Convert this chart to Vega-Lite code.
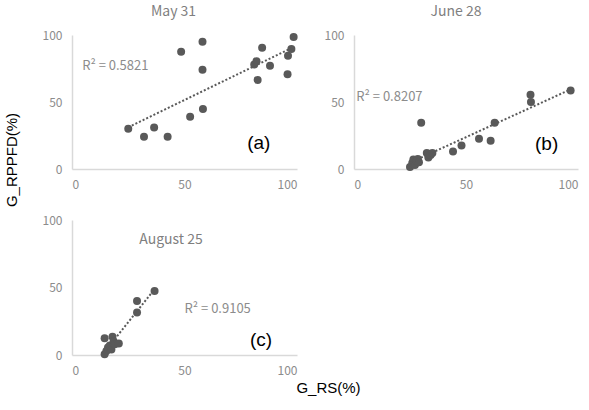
{
  "$schema": "https://vega.github.io/schema/vega-lite/v6.json",
  "padding": {"left": 5, "top": 5, "right": 2, "bottom": 2},
  "background": "white",
  "config": {
    "view": {"stroke": null},
    "axis": {
      "grid": false, "ticks": false, "domainColor": "#d9d9d9", "domainWidth": 1.5,
      "labelColor": "#8c8c8c", "labelFont": "Noto Sans CJK JP", "labelFontSize": 12,
      "labelPadding": 10, "title": null
    },
    "text": {"font": "Noto Sans CJK JP"}
  },
  "datasets": {
    "a": [
      {"rs": 25, "rppfd": 30}, {"rs": 32, "rppfd": 24}, {"rs": 36.5, "rppfd": 31}, {"rs": 42.5, "rppfd": 24},
      {"rs": 48.5, "rppfd": 87.5}, {"rs": 52.5, "rppfd": 39}, {"rs": 58, "rppfd": 95}, {"rs": 58, "rppfd": 74},
      {"rs": 58.2, "rppfd": 44.8}, {"rs": 81, "rppfd": 78}, {"rs": 82, "rppfd": 80.5}, {"rs": 82.5, "rppfd": 66.5},
      {"rs": 84.5, "rppfd": 90.5}, {"rs": 88, "rppfd": 77}, {"rs": 95.8, "rppfd": 70.7}, {"rs": 96, "rppfd": 84.5},
      {"rs": 97.5, "rppfd": 89.5}, {"rs": 98.5, "rppfd": 98.5}
    ],
    "b": [
      {"rs": 25, "rppfd": 1.5}, {"rs": 26, "rppfd": 4.5}, {"rs": 26.5, "rppfd": 7}, {"rs": 27.2, "rppfd": 3},
      {"rs": 27.8, "rppfd": 6}, {"rs": 28.5, "rppfd": 7.5}, {"rs": 29, "rppfd": 5}, {"rs": 30, "rppfd": 34.5},
      {"rs": 32.5, "rppfd": 12}, {"rs": 33.2, "rppfd": 8.5}, {"rs": 34.2, "rppfd": 10.5}, {"rs": 35, "rppfd": 12},
      {"rs": 44.2, "rppfd": 13}, {"rs": 48, "rppfd": 17.5}, {"rs": 55.8, "rppfd": 22.5}, {"rs": 61, "rppfd": 21},
      {"rs": 62.8, "rppfd": 34.5}, {"rs": 78.8, "rppfd": 55.5}, {"rs": 79, "rppfd": 50}, {"rs": 96.7, "rppfd": 58.5}
    ],
    "c": [
      {"rs": 14.5, "rppfd": 0.5}, {"rs": 14.5, "rppfd": 12.5}, {"rs": 15.3, "rppfd": 3}, {"rs": 16, "rppfd": 5.5},
      {"rs": 16.8, "rppfd": 7}, {"rs": 17.5, "rppfd": 4}, {"rs": 18, "rppfd": 13.5}, {"rs": 18.5, "rppfd": 10},
      {"rs": 19, "rppfd": 8}, {"rs": 20.8, "rppfd": 8.5}, {"rs": 28.9, "rppfd": 31.5}, {"rs": 28.9, "rppfd": 40},
      {"rs": 36.7, "rppfd": 47.5}
    ]
  },
  "title": {"text": "G_RPPFD(%)", "orient": "left", "anchor": "middle", "font": "Liberation Sans", "fontSize": 15, "fontWeight": "normal", "color": "#000000", "offset": 22, "dx": 40},
  "spacing": 24,
  "vconcat": [
    {
      "spacing": 26,
      "hconcat": [
        {
          "width": 225, "height": 134,
          "title": {"text": "May 31", "anchor": "middle", "font": "Noto Sans CJK JP", "fontSize": 14, "fontWeight": "normal", "color": "#7f7f7f", "dx": -11, "offset": 10},
          "layer": [
            {"data": {"name": "a"}, "mark": {"type": "circle", "size": 64, "color": "#595959", "opacity": 1},
             "encoding": {"x": {"field": "rs", "type": "quantitative", "scale": {"domain": [0, 100], "nice": false}, "axis": {"values": [0, 50, 100]}},
                          "y": {"field": "rppfd", "type": "quantitative", "scale": {"domain": [0, 100], "nice": false}, "axis": {"values": [0, 50, 100]}}}},
            {"data": {"name": "a"}, "transform": [{"regression": "rppfd", "on": "rs"}],
             "mark": {"type": "line", "color": "#595959", "strokeDash": [2, 2], "strokeWidth": 2},
             "encoding": {"x": {"field": "rs", "type": "quantitative"}, "y": {"field": "rppfd", "type": "quantitative"}}},
            {"data": {"values": [{"label": "R² = 0.5821"}]}, "mark": {"type": "text", "align": "left", "baseline": "middle", "fontSize": 13, "color": "#8c8c8c"},
             "encoding": {"x": {"datum": 4.5}, "y": {"datum": 76.5}, "text": {"field": "label"}}},
            {"data": {"values": [{"label": "(a)"}]}, "mark": {"type": "text", "baseline": "middle", "fontSize": 19, "font": "Liberation Sans", "color": "#000000"},
             "encoding": {"x": {"datum": 83}, "y": {"datum": 19.5}, "text": {"field": "label"}}}
          ]
        },
        {
          "width": 224, "height": 134,
          "title": {"text": "June 28", "anchor": "middle", "font": "Noto Sans CJK JP", "fontSize": 14, "fontWeight": "normal", "color": "#7f7f7f", "dx": -10, "offset": 10},
          "layer": [
            {"data": {"name": "b"}, "mark": {"type": "circle", "size": 64, "color": "#595959", "opacity": 1},
             "encoding": {"x": {"field": "rs", "type": "quantitative", "scale": {"domain": [0, 100], "nice": false}, "axis": {"values": [0, 50, 100]}},
                          "y": {"field": "rppfd", "type": "quantitative", "scale": {"domain": [0, 100], "nice": false}, "axis": {"values": [0, 50, 100]}}}},
            {"data": {"name": "b"}, "transform": [{"regression": "rppfd", "on": "rs"}],
             "mark": {"type": "line", "color": "#595959", "strokeDash": [2, 2], "strokeWidth": 2},
             "encoding": {"x": {"field": "rs", "type": "quantitative"}, "y": {"field": "rppfd", "type": "quantitative"}}},
            {"data": {"values": [{"label": "R² = 0.8207"}]}, "mark": {"type": "text", "align": "left", "baseline": "middle", "fontSize": 13, "color": "#8c8c8c"},
             "encoding": {"x": {"datum": 1}, "y": {"datum": 54}, "text": {"field": "label"}}},
            {"data": {"values": [{"label": "(b)"}]}, "mark": {"type": "text", "baseline": "middle", "fontSize": 19, "font": "Liberation Sans", "color": "#000000"},
             "encoding": {"x": {"datum": 86}, "y": {"datum": 19}, "text": {"field": "label"}}}
          ]
        }
      ]
    },
    {
      "width": 225, "height": 135,
      "layer": [
        {"data": {"name": "c"}, "mark": {"type": "circle", "size": 64, "color": "#595959", "opacity": 1},
         "encoding": {"x": {"field": "rs", "type": "quantitative", "scale": {"domain": [0, 100], "nice": false},
                            "axis": {"values": [0, 50, 100], "title": "G_RS(%)", "titleX": 256, "titleAlign": "center", "titleFont": "Liberation Sans", "titleFontSize": 15, "titleFontWeight": "normal", "titleColor": "#000000", "titlePadding": 4}},
                      "y": {"field": "rppfd", "type": "quantitative", "scale": {"domain": [0, 100], "nice": false}, "axis": {"values": [0, 50, 100]}}}},
        {"data": {"name": "c"}, "transform": [{"regression": "rppfd", "on": "rs"}],
         "mark": {"type": "line", "color": "#595959", "strokeDash": [2, 2], "strokeWidth": 2},
         "encoding": {"x": {"field": "rs", "type": "quantitative"}, "y": {"field": "rppfd", "type": "quantitative"}}},
        {"data": {"values": [{"label": "August 25"}]}, "mark": {"type": "text", "baseline": "middle", "fontSize": 14, "color": "#7f7f7f"},
         "encoding": {"x": {"datum": 44}, "y": {"datum": 85}, "text": {"field": "label"}}},
        {"data": {"values": [{"label": "R² = 0.9105"}]}, "mark": {"type": "text", "align": "left", "baseline": "middle", "fontSize": 13, "color": "#8c8c8c"},
         "encoding": {"x": {"datum": 50}, "y": {"datum": 34}, "text": {"field": "label"}}},
        {"data": {"values": [{"label": "(c)"}]}, "mark": {"type": "text", "baseline": "middle", "fontSize": 19, "font": "Liberation Sans", "color": "#000000"},
         "encoding": {"x": {"datum": 84}, "y": {"datum": 11}, "text": {"field": "label"}}}
      ]
    }
  ]
}
